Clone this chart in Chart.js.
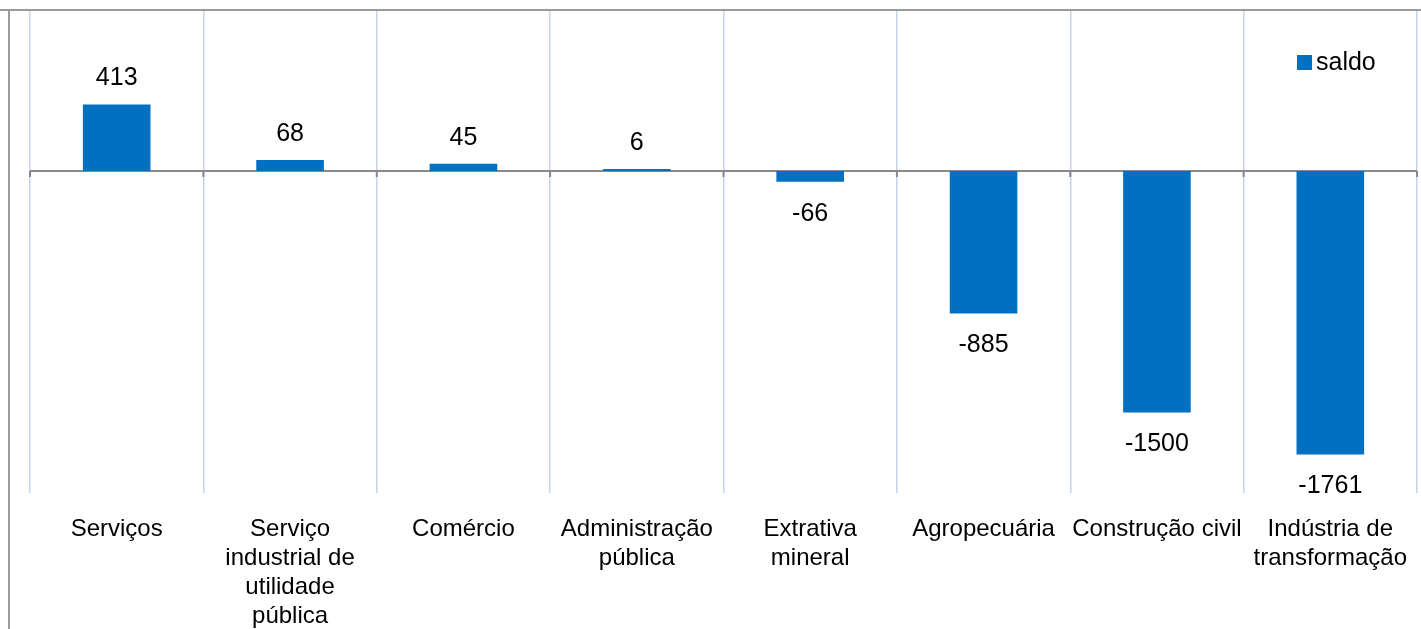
<!DOCTYPE html>
<html>
<head>
<meta charset="utf-8">
<script src="https://cdn.jsdelivr.net/npm/chart.js@4.4.1/dist/chart.umd.min.js"></script>
<style>
    html, body { margin: 0; padding: 0; background: #fff; overflow: hidden; }
    #wrap { width: 1421px; height: 629px; position: relative; }
    canvas { display: block; }
</style>
</head>
<body>
<div id="wrap"><canvas id="saldoChart"></canvas></div>
<script>
const categories = [
    'Serviços',
    ['Serviço', 'industrial de', 'utilidade', 'pública'],
    'Comércio',
    ['Administração', 'pública'],
    ['Extrativa', 'mineral'],
    'Agropecuária',
    'Construção civil',
    ['Indústria de', 'transformação']
];
const saldo = [413, 68, 45, 6, -66, -885, -1500, -1761];
const seriesName = 'saldo';
const yMin = -2000;
const yMax = 1000;

const BAR_COLOR = '#0070C0';
const FONT = '"Liberation Sans", Arial, sans-serif';

// borders, zero line, value labels and legend
const decorPlugin = {
    id: 'decor',
    beforeDatasetsDraw(chart) {
        const ctx = chart.ctx;
        const area = chart.chartArea;
        const y0 = chart.scales.y.getPixelForValue(0);
        const xs = chart.scales.x;
        ctx.save();
        ctx.strokeStyle = '#898989';
        ctx.lineWidth = 2;
        ctx.beginPath();
        ctx.moveTo(area.left, y0);
        ctx.lineTo(area.right, y0);
        ctx.stroke();
        // little tick marks below the zero line
        for (let i = 0; i <= categories.length; i++) {
            const x = xs.getPixelForValue(i - 0.5);
            ctx.beginPath();
            ctx.moveTo(x, y0);
            ctx.lineTo(x, y0 + 6);
            ctx.stroke();
        }
        ctx.restore();
    },
    afterDraw(chart) {
        const ctx = chart.ctx;
        const meta = chart.getDatasetMeta(0);
        ctx.save();

        // outer frame (only top and left are visible in the crop)
        ctx.strokeStyle = '#9a9a9a';
        ctx.lineWidth = 2;
        ctx.beginPath();
        ctx.moveTo(0, 10);
        ctx.lineTo(chart.width, 10);
        ctx.moveTo(9, 10);
        ctx.lineTo(9, chart.height);
        ctx.stroke();

        ctx.fillStyle = '#000';
        ctx.font = '25px ' + FONT;
        ctx.textAlign = 'center';
        ctx.textBaseline = 'middle';
        meta.data.forEach((bar, i) => {
            const v = saldo[i];
            const y = v >= 0 ? bar.y - 26 : bar.y + 32;
            ctx.fillText(String(v), bar.x, y);
        });

        // legend
        ctx.fillStyle = BAR_COLOR;
        ctx.fillRect(1297, 55, 15, 15);
        ctx.fillStyle = '#000';
        ctx.textAlign = 'left';
        ctx.font = '25px ' + FONT;
        ctx.fillText(seriesName, 1316, 63);
        ctx.restore();
    }
};

const ctx = document.getElementById('saldoChart').getContext('2d');
new Chart(ctx, {
    type: 'bar',
    data: {
        labels: categories,
        datasets: [{
            label: seriesName,
            data: saldo,
            backgroundColor: BAR_COLOR,
            borderWidth: 0,
            barPercentage: 0.39,
            categoryPercentage: 1,
            minBarLength: 2
        }]
    },
    options: {
        responsive: true,
        maintainAspectRatio: false,
        animation: false,
        layout: { padding: { left: 30, right: 4, top: 10, bottom: 0 } },
        plugins: {
            legend: { display: false },
            tooltip: { enabled: false }
        },
        scales: {
            x: {
                grid: {
                    offset: true,
                    color: '#c3d4f0',
                    lineWidth: 1.5,
                    drawTicks: false
                },
                border: { display: false },
                ticks: {
                    color: '#000',
                    font: { family: FONT, size: 24, lineHeight: 1.21 },
                    padding: 22,
                    autoSkip: false,
                    maxRotation: 0,
                    minRotation: 0
                },
                afterFit(scale) {
                    scale.height = 136;
                    // labels fit inside their columns, no side padding needed
                    scale.paddingLeft = 0;
                    scale.paddingRight = 0;
                }
            },
            y: {
                display: false,
                min: yMin,
                max: yMax
            }
        }
    },
    plugins: [decorPlugin]
});
</script>
</body>
</html>
